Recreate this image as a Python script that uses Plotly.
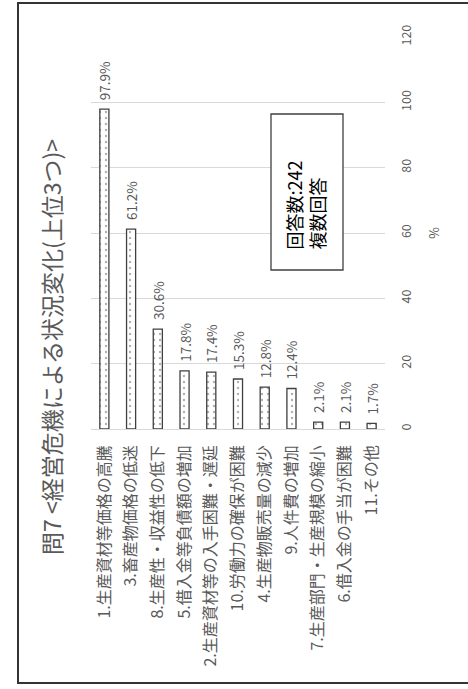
import plotly.graph_objects as go

categories = [
    "1.生産資材等価格の高騰",
    "3.畜産物価格の低迷",
    "8.生産性・収益性の低下",
    "5.借入金等負債額の増加",
    "2.生産資材等の入手困難・遅延",
    "10.労働力の確保が困難",
    "4.生産物販売量の減少",
    "9.人件費の増加",
    "7.生産部門・生産規模の縮小",
    "6.借入金の手当が困難",
    "11.その他",
]
values = [97.9, 61.2, 30.6, 17.8, 17.4, 15.3, 12.8, 12.4, 2.1, 2.1, 1.7]
y_ticks = [0, 20, 40, 60, 80, 100, 120]
title_text = "問7 <経営危機による状況変化(上位3つ)>"
note_text = "回答数:242<br>複数回答"

FONT = "Noto Sans CJK JP"
GRAY = "#595959"

W, H = 468, 689
L, R, T, B = 91, 83, 37, 260
PW, PH = W - L - R, H - T - B


def px_x(px):
    return (px - L) / PW


def px_y(py):
    return (H - B - py) / PH


fig = go.Figure(
    go.Bar(
        x=categories,
        y=values,
        marker=dict(
            color="white",
            line=dict(color="#404040", width=1.3),
            pattern=dict(shape=".", fgcolor="#606060", bgcolor="white", size=6, solidity=0.12),
        ),
        text=[f"\u00a0\u00a0{v:.1f}%" for v in values],
        textposition="outside",
        textangle=-90,
        constraintext="none",
        textfont=dict(family=FONT, size=13.5, color=GRAY),
        cliponaxis=False,
    )
)

fig.update_layout(
    width=W,
    height=H,
    margin=dict(l=L, r=R, t=T, b=B),
    paper_bgcolor="white",
    plot_bgcolor="white",
    bargap=0.66,
    showlegend=False,
    font=dict(family=FONT, color=GRAY),
    xaxis=dict(
        tickangle=-90,
        tickfont=dict(family=FONT, size=16, color=GRAY),
        showgrid=False,
        showline=False,
        ticks="",
        ticklabelstandoff=12,
    ),
    yaxis=dict(
        side="right",
        range=[0, 120],
        tickvals=y_ticks,
        tickangle=-90,
        tickfont=dict(family=FONT, size=12.5, color=GRAY),
        gridcolor="#d9d9d9",
        gridwidth=1,
        zeroline=True,
        zerolinecolor="#d9d9d9",
        zerolinewidth=1,
        showline=False,
        ticks="",
        ticklabelstandoff=12,
        title=dict(text="%", font=dict(family=FONT, size=12.5, color=GRAY), standoff=16),
    ),
)

# outer frame
fig.add_shape(
    type="rect", xref="paper", yref="paper",
    x0=px_x(18), x1=px_x(470), y0=px_y(683), y1=px_y(3),
    line=dict(color="#333333", width=2), fillcolor="rgba(0,0,0,0)", layer="above",
)

# title
fig.add_annotation(
    xref="paper", yref="paper", x=px_x(51), y=px_y(347),
    text=title_text, textangle=-90, showarrow=False,
    font=dict(family=FONT, size=23, color=GRAY),
    xanchor="center", yanchor="middle",
)

# note box
fig.add_shape(
    type="rect", xref="paper", yref="paper",
    x0=px_x(271), x1=px_x(343), y0=px_y(270), y1=px_y(114),
    line=dict(color="#404040", width=1.3), fillcolor="white", layer="above",
)
fig.add_annotation(
    xref="paper", yref="paper", x=px_x(305), y=px_y(205.5),
    text=note_text, textangle=-90, showarrow=False, align="left",
    font=dict(family=FONT, size=18, color="black"),
    xanchor="center", yanchor="middle",
)

fig.write_html(
    "out.html",
    config={"displayModeBar": False},
    post_script="document.body.style.margin='0';document.body.style.overflow='hidden';",
)
